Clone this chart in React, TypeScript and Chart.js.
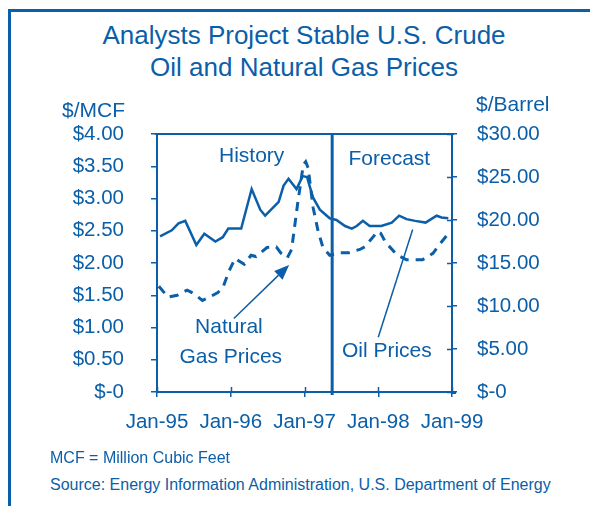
import React, { useEffect, useRef } from 'react';
import { Chart, registerables } from 'chart.js';

Chart.register(...registerables);

const BLUE = '#0b5ea8';
const FONT = '"Liberation Sans", Arial, Helvetica, sans-serif';

// x axis values are months since Jan-95
const yearTickLabels = ['Jan-95', 'Jan-96', 'Jan-97', 'Jan-98', 'Jan-99'];
const gasTickLabels = ['$-0', '$0.50', '$1.00', '$1.50', '$2.00', '$2.50', '$3.00', '$3.50', '$4.00'];
const oilTickLabels = ['$-0', '$5.00', '$10.00', '$15.00', '$20.00', '$25.00', '$30.00'];

// Crude oil, $/Barrel (right axis)
const oilMonths = [0.5, 2.4, 3.5, 4.6, 6.4, 7.7, 9.5, 10.7, 11.6, 13.7, 15.4, 16.8, 17.6, 19.8, 20.6, 21.4, 22.7, 23.7, 24.4, 25.4, 26.5, 28.1, 29.2, 30.6, 31.7, 32.5, 33.5, 34.6, 36.5, 38.2, 39.4, 40.6, 42.0, 43.7, 45.5, 46.3, 47.4];
const oilPrices = [18.1, 18.8, 19.6, 19.9, 17.1, 18.4, 17.5, 18.0, 19.0, 19.0, 23.6, 21.2, 20.5, 22.1, 24.0, 24.8, 23.6, 25.1, 25.0, 22.6, 21.2, 20.2, 20.0, 19.3, 19.0, 19.3, 19.9, 19.3, 19.3, 19.7, 20.5, 20.1, 19.9, 19.7, 20.5, 20.3, 20.2];

// Natural gas, $/MCF (left axis)
const gasMonths = [0.3, 1.8, 3.3, 4.9, 5.9, 7.4, 8.3, 9.9, 10.8, 11.7, 12.7, 14.2, 15.3, 16.1, 17.9, 19.4, 20.2, 21.2, 21.9, 22.9, 23.8, 24.2, 24.6, 25.4, 26.2, 27.0, 28.1, 29.8, 31.2, 33.0, 33.8, 35.3, 35.8, 36.4, 37.2, 39.0, 40.6, 43.2, 44.9, 46.0, 47.1];
const gasPrices = [1.64, 1.47, 1.50, 1.58, 1.53, 1.42, 1.46, 1.54, 1.64, 1.87, 2.07, 1.98, 2.12, 2.10, 2.24, 2.25, 2.15, 2.08, 2.21, 2.93, 3.52, 3.57, 3.47, 2.86, 2.50, 2.24, 2.12, 2.16, 2.16, 2.21, 2.25, 2.42, 2.49, 2.46, 2.32, 2.13, 2.05, 2.05, 2.15, 2.29, 2.42];

const forecastStart = 28.5;

// annotation anchors in (month, $/MCF) space
const textNotes = [
  { text: 'History', month: 15.4, gas: 3.57 },
  { text: 'Forecast', month: 37.8, gas: 3.52 },
  { text: 'Natural', month: 11.7, gas: 0.91 },
  { text: 'Gas Prices', month: 12.0, gas: 0.445 },
  { text: 'Oil Prices', month: 37.4, gas: 0.54 },
];
const gasArrow = { from: [12.5, 1.14], to: [21.5, 1.97] };
const oilLeader = { from: [36.0, 0.85], to: [41.6, 2.52] };

const overlayPlugin = {
  id: 'overlay',
  afterDraw(chart: any) {
    const { ctx, chartArea: a, scales } = chart;
    const xs = scales.x;
    const yg = scales.yGas;
    const yo = scales.yOil;
    ctx.save();
    ctx.strokeStyle = BLUE;
    ctx.fillStyle = BLUE;

    // top frame of plot
    ctx.lineWidth = 2;
    ctx.beginPath();
    ctx.moveTo(a.left - 2, a.top);
    ctx.lineTo(a.right + 2, a.top);
    ctx.stroke();

    // x-axis overrun to the right
    ctx.beginPath();
    ctx.moveTo(a.right, a.bottom + 1);
    ctx.lineTo(a.right + 4, a.bottom + 1);
    ctx.stroke();

    // inner halves of crossing ticks
    ctx.lineWidth = 1.5;
    ctx.beginPath();
    yo.ticks.forEach((t: any) => {
      const py = Math.round(yo.getPixelForValue(t.value)) + 0.5;
      ctx.moveTo(a.right - 5, py);
      ctx.lineTo(a.right + 1, py);
    });
    xs.ticks.forEach((t: any) => {
      const px = Math.round(xs.getPixelForValue(t.value)) + 0.5;
      ctx.moveTo(px, a.bottom - 5);
      ctx.lineTo(px, a.bottom + 1);
    });
    ctx.stroke();

    // history / forecast divider
    ctx.lineWidth = 3;
    const dx = xs.getPixelForValue(forecastStart);
    ctx.beginPath();
    ctx.moveTo(dx, a.top);
    ctx.lineTo(dx, a.bottom + 3);
    ctx.stroke();

    // labels
    ctx.font = `21px ${FONT}`;
    ctx.textAlign = 'center';
    ctx.textBaseline = 'alphabetic';
    textNotes.forEach((n) => {
      ctx.fillText(n.text, xs.getPixelForValue(n.month), yg.getPixelForValue(n.gas));
    });

    // arrow to gas line
    const ax1 = xs.getPixelForValue(gasArrow.from[0]);
    const ay1 = yg.getPixelForValue(gasArrow.from[1]);
    const ax2 = xs.getPixelForValue(gasArrow.to[0]);
    const ay2 = yg.getPixelForValue(gasArrow.to[1]);
    const ang = Math.atan2(ay2 - ay1, ax2 - ax1);
    const headLen = 15;
    const headHalf = 6;
    const bx = ax2 - headLen * Math.cos(ang);
    const by = ay2 - headLen * Math.sin(ang);
    ctx.lineWidth = 1.5;
    ctx.beginPath();
    ctx.moveTo(ax1, ay1);
    ctx.lineTo(bx, by);
    ctx.stroke();
    ctx.beginPath();
    ctx.moveTo(ax2, ay2);
    ctx.lineTo(bx + headHalf * Math.sin(ang), by - headHalf * Math.cos(ang));
    ctx.lineTo(bx - headHalf * Math.sin(ang), by + headHalf * Math.cos(ang));
    ctx.closePath();
    ctx.fill();

    // leader line to oil
    ctx.lineWidth = 1.5;
    ctx.beginPath();
    ctx.moveTo(xs.getPixelForValue(oilLeader.from[0]), yg.getPixelForValue(oilLeader.from[1]));
    ctx.lineTo(xs.getPixelForValue(oilLeader.to[0]), yg.getPixelForValue(oilLeader.to[1]));
    ctx.stroke();

    ctx.restore();
  },
};

export default function App() {
  const ref = useRef<HTMLCanvasElement>(null);

  useEffect(() => {
    const tickFont = { family: FONT, size: 20.5 };
    const gridBase = { drawOnChartArea: false, color: BLUE, lineWidth: 1.5 };
    const fixY = (w: number) => (s: any) => {
      s.width = w;
      s.paddingTop = 0;
      s.paddingBottom = 0;
    };
    const chart = new Chart(ref.current as HTMLCanvasElement, {
      type: 'line',
      data: {
        datasets: [
          {
            label: 'Oil Prices',
            data: oilMonths.map((m, i) => ({ x: m, y: oilPrices[i] })),
            yAxisID: 'yOil',
            borderColor: BLUE,
            borderWidth: 2.5,
            pointRadius: 0,
            tension: 0,
            fill: false,
            borderJoinStyle: 'miter',
          },
          {
            label: 'Natural Gas Prices',
            data: gasMonths.map((m, i) => ({ x: m, y: gasPrices[i] })),
            yAxisID: 'yGas',
            borderColor: BLUE,
            borderWidth: 3,
            borderDash: [9, 7],
            pointRadius: 0,
            tension: 0,
            fill: false,
          },
        ],
      },
      options: {
        responsive: false,
        animation: false,
        events: [],
        layout: { padding: { top: 24, left: 0, right: 0, bottom: 0 } },
        plugins: {
          legend: { display: false },
          tooltip: { enabled: false },
          title: { display: false },
        },
        scales: {
          x: {
            type: 'linear',
            position: 'bottom',
            min: 0,
            max: 48,
            afterFit: (s: any) => {
              s.height = 58;
              s.paddingLeft = 0;
              s.paddingRight = 0;
            },
            grid: { ...gridBase, tickLength: 5 },
            border: { color: BLUE, width: 2 },
            ticks: {
              stepSize: 12,
              autoSkip: false,
              maxRotation: 0,
              padding: 13.5,
              color: BLUE,
              font: tickFont,
              callback: (v: any) => yearTickLabels[Math.round(Number(v) / 12)] ?? '',
            },
          },
          yGas: {
            type: 'linear',
            position: 'left',
            min: 0,
            max: 4,
            afterFit: fixY(157),
            grid: { ...gridBase, tickLength: 6 },
            border: { color: BLUE, width: 2 },
            ticks: {
              stepSize: 0.5,
              padding: 27,
              color: BLUE,
              font: tickFont,
              callback: (v: any) => gasTickLabels[Math.round(Number(v) / 0.5)] ?? '',
            },
          },
          yOil: {
            type: 'linear',
            position: 'right',
            min: 0,
            max: 30,
            afterFit: fixY(138),
            grid: { ...gridBase, tickLength: 5 },
            border: { color: BLUE, width: 2 },
            ticks: {
              stepSize: 5,
              padding: 20,
              color: BLUE,
              font: tickFont,
              callback: (v: any) => oilTickLabels[Math.round(Number(v) / 5)] ?? '',
            },
          },
        },
      } as any,
      plugins: [overlayPlugin],
    });
    return () => chart.destroy();
  }, []);

  const abs = (s: React.CSSProperties): React.CSSProperties => ({ position: 'absolute', whiteSpace: 'nowrap', ...s });

  return (
    <div
      style={{
        position: 'fixed',
        left: 0,
        top: 0,
        width: 590,
        height: 506,
        overflow: 'hidden',
        background: '#ffffff',
        fontFamily: FONT,
        color: BLUE,
      }}
    >
      <div style={abs({ left: 8, top: 9, width: 620, height: 540, borderLeft: `3px solid ${BLUE}`, borderTop: `3px solid ${BLUE}` })} />
      <canvas ref={ref} width={590} height={340} style={{ position: 'absolute', left: 0, top: 110, width: 590, height: 340 }} />
      <div style={abs({ left: 54, top: 20, width: 500, textAlign: 'center', fontSize: 26, lineHeight: '31.7px' })}>
        Analysts Project Stable U.S. Crude
        <br />
        Oil and Natural Gas Prices
      </div>
      <div style={abs({ left: 62, top: 99, fontSize: 21, lineHeight: '21px' })}>$/MCF</div>
      <div style={abs({ left: 476, top: 93, fontSize: 21, lineHeight: '21px' })}>$/Barrel</div>
      <div style={abs({ left: 50, top: 450, fontSize: 16, lineHeight: '16px' })}>MCF = Million Cubic Feet</div>
      <div style={abs({ left: 50, top: 476.5, fontSize: 16, lineHeight: '16px' })}>
        Source: Energy Information Administration, U.S. Department of Energy
      </div>
    </div>
  );
}
